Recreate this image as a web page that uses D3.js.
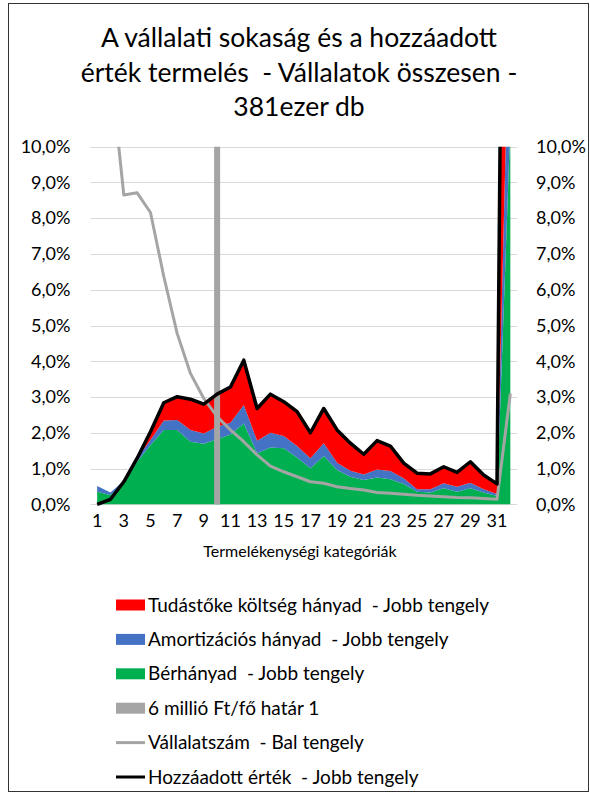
<!DOCTYPE html>
<html>
<head>
<meta charset="utf-8">
<script src="https://cdn.jsdelivr.net/npm/d3@7"></script>
<style>
body { margin: 0; background: #fff; }
text { font-family: Lato, "Open Sans", sans-serif; fill: #000; white-space: pre; }
</style>
</head>
<body>
<div id="chart"></div>
<script>
// kategóriák és sorozatok (százalékban)
const categories = [1,2,3,4,5,6,7,8,9,10,11,12,13,14,15,16,17,18,19,20,21,22,23,24,25,26,27,28,29,30,31,32];
const berhanyad = [0.35,0.26,0.59,1.19,1.66,2.08,2.08,1.75,1.69,1.82,1.95,2.26,1.43,1.59,1.57,1.31,1.01,1.35,0.96,0.77,0.68,0.75,0.70,0.57,0.35,0.33,0.45,0.35,0.45,0.33,0.23,10.6];
const amortizacio = [0.16,0.07,0.07,0.10,0.14,0.26,0.28,0.33,0.29,0.35,0.33,0.52,0.35,0.41,0.34,0.32,0.28,0.36,0.20,0.17,0.15,0.22,0.23,0.16,0.07,0.09,0.14,0.14,0.15,0.09,0.06,4.6];
const tudastoke = [0,0,0,0.02,0.23,0.50,0.65,0.86,0.82,0.91,1.00,1.25,0.90,1.08,0.96,0.96,0.71,0.97,0.92,0.77,0.57,0.81,0.70,0.42,0.45,0.43,0.46,0.40,0.59,0.40,0.28,14.8];
const hozzaadott = [0.0,0.14,0.63,1.29,2.03,2.84,3.01,2.94,2.80,3.08,3.28,4.03,2.68,3.08,2.87,2.59,2.00,2.68,2.08,1.71,1.40,1.78,1.63,1.15,0.87,0.85,1.05,0.89,1.19,0.82,0.57,42];
const vallalatszam = [26,12.2,8.65,8.71,8.16,6.37,4.78,3.66,2.96,2.45,2.08,1.75,1.38,1.07,0.91,0.77,0.63,0.59,0.49,0.44,0.40,0.33,0.31,0.28,0.25,0.23,0.21,0.19,0.18,0.16,0.14,3.10];
const hatar = [0,0,0,0,0,0,0,0,0,100,0,0,0,0,0,0,0,0,0,0,0,0,0,0,0,0,0,0,0,0,0,0];
const yTicks = [0,1,2,3,4,5,6,7,8,9,10];
const xTickLabels = [1,3,5,7,9,11,13,15,17,19,21,23,25,27,29,31];
const titleLines = ["A vállalati sokaság és a hozzáadott", "érték termelés  - Vállalatok összesen -", "381ezer db"];
const xTitle = "Termelékenységi kategóriák";
const legendItems = [
  {name: "Tudástőke költség hányad  - Jobb tengely", type: "area", color: "#ff0000"},
  {name: "Amortizációs hányad  - Jobb tengely", type: "area", color: "#4472c4"},
  {name: "Bérhányad  - Jobb tengely", type: "area", color: "#00b050"},
  {name: "6 millió Ft/fő határ 1", type: "area", color: "#a5a5a5"},
  {name: "Vállalatszám  - Bal tengely", type: "line", color: "#a5a5a5"},
  {name: "Hozzáadott érték  - Jobb tengely", type: "line", color: "#000000"}
];

const width = 590, height = 795;
const plot = {left: 90.5, right: 517, top: 146.7, bottom: 504.3};

const svg = d3.select("#chart").append("svg")
    .attr("width", width)
    .attr("height", height);

svg.append("rect")
    .attr("x", 8.5).attr("y", 3.5)
    .attr("width", 580).attr("height", 788)
    .attr("fill", "#fff")
    .attr("stroke", "#333")
    .attr("stroke-width", 1);

// cím
svg.append("g").selectAll("text")
  .data(titleLines)
  .join("text")
    .attr("x", 299)
    .attr("y", (d, i) => 47 + i * 34.5)
    .attr("text-anchor", "middle")
    .style("font-size", "26.5px")
    .text(d => d);

const x = d3.scaleBand().domain(categories).range([plot.left, plot.right]).padding(0);
const xc = c => x(c) + x.bandwidth() / 2;
const yL = d3.scaleLinear().domain([0, 10]).range([plot.bottom, plot.top]);
const yR = d3.scaleLinear().domain([0, 10]).range([plot.bottom, plot.top]);

const hu = d3.formatLocale({decimal: ",", thousands: " ", grouping: [3], currency: ["", " Ft"]});
const pct = d => hu.format(".1f")(d) + "%";

// rácsvonalak
svg.append("g").selectAll("line")
  .data(yTicks)
  .join("line")
    .attr("x1", plot.left).attr("x2", plot.right)
    .attr("y1", d => Math.round(yR(d)) + 0.5)
    .attr("y2", d => Math.round(yR(d)) + 0.5)
    .attr("stroke", "#d9d9d9")
    .attr("stroke-width", 1);

svg.append("clipPath").attr("id", "clip")
  .append("rect")
    .attr("x", plot.left).attr("y", plot.top)
    .attr("width", plot.right - plot.left)
    .attr("height", height - plot.top);

const g = svg.append("g").attr("clip-path", "url(#clip)");

// halmozott területek
const rows = categories.map((c, i) => ({cat: c, ber: berhanyad[i], amort: amortizacio[i], tud: tudastoke[i]}));
const stack = d3.stack().keys(["ber", "amort", "tud"]);
const areaColors = {ber: "#00b050", amort: "#4472c4", tud: "#ff0000"};
const area = d3.area()
    .x(d => xc(d.data.cat))
    .y0(d => yR(d[0]))
    .y1(d => yR(d[1]));

g.selectAll(".area")
  .data(stack(rows))
  .join("path")
    .attr("class", "area")
    .attr("fill", d => areaColors[d.key])
    .attr("d", area);

// 6 millió Ft/fő határ oszlop
const colW = 6;
g.selectAll(".bar")
  .data(categories.map((c, i) => ({cat: c, v: hatar[i]})).filter(d => d.v > 0))
  .join("rect")
    .attr("class", "bar")
    .attr("x", d => xc(d.cat) - colW / 2)
    .attr("width", colW)
    .attr("y", d => yR(d.v))
    .attr("height", d => yR(0) - yR(d.v))
    .attr("fill", "#a5a5a5");

// vállalatszám (bal tengely)
g.append("path")
    .datum(vallalatszam)
    .attr("fill", "none")
    .attr("stroke", "#a5a5a5")
    .attr("stroke-width", 3)
    .attr("stroke-linejoin", "round")
    .attr("d", d3.line().x((d, i) => xc(categories[i])).y(d => yL(d)));

// hozzáadott érték
g.append("path")
    .datum(hozzaadott)
    .attr("fill", "none")
    .attr("stroke", "#000")
    .attr("stroke-width", 3.5)
    .attr("stroke-linejoin", "round")
    .attr("d", d3.line().x((d, i) => xc(categories[i])).y(d => yR(d)));

// tengelyek
const leftAxis = d3.axisLeft(yL).tickValues(yTicks).tickFormat(pct).tickSize(0).tickPadding(20);
const rightAxis = d3.axisRight(yR).tickValues(yTicks).tickFormat(pct).tickSize(0).tickPadding(19);
const bottomAxis = d3.axisBottom(x).tickValues(xTickLabels).tickSize(0).tickPadding(10);

const la = svg.append("g").attr("transform", `translate(${plot.left},0)`).call(leftAxis);
const ra = svg.append("g").attr("transform", `translate(${plot.right},0)`).call(rightAxis);
const ba = svg.append("g").attr("transform", `translate(0,${plot.bottom})`).call(bottomAxis);
[la, ra, ba].forEach(a => {
  a.select(".domain").remove();
  a.selectAll("text").style("font-size", "18px").attr("fill", "#000").style("font-family", "Lato, 'Open Sans', sans-serif");
});

svg.append("text")
    .attr("x", 300)
    .attr("y", 557)
    .attr("text-anchor", "middle")
    .style("font-size", "16px")
    .text(xTitle);

// jelmagyarázat
const leg = svg.append("g").selectAll("g")
  .data(legendItems)
  .join("g")
    .attr("transform", (d, i) => `translate(116,${605 + i * 34.4})`);

leg.filter(d => d.type === "area").append("rect")
    .attr("x", 0).attr("y", -5.5)
    .attr("width", 29).attr("height", 11)
    .attr("fill", d => d.color);

leg.filter(d => d.type === "line").append("line")
    .attr("x1", 0).attr("x2", 29)
    .attr("y1", 0).attr("y2", 0)
    .attr("stroke", d => d.color)
    .attr("stroke-width", 3);

leg.append("text")
    .attr("x", 32)
    .attr("y", 0)
    .attr("dy", "0.35em")
    .style("font-size", "19px")
    .text(d => d.name);
</script>
</body>
</html>
